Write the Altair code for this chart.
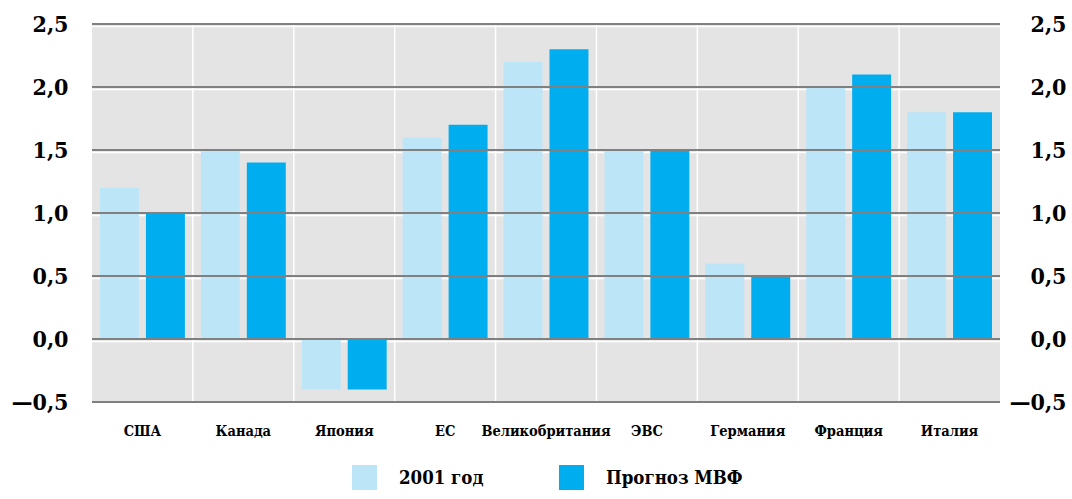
import altair as alt
import pandas as pd

# GDP growth, %: 2001 actual vs IMF forecast
countries = ["США", "Канада", "Япония", "ЕС", "Великобритания", "ЭВС", "Германия", "Франция", "Италия"]
growth_2001 = [1.2, 1.5, -0.4, 1.6, 2.2, 1.5, 0.6, 2.0, 1.8]
growth_imf = [1.0, 1.4, -0.4, 1.7, 2.3, 1.5, 0.5, 2.1, 1.8]
series = ["2001 год", "Прогноз МВФ"]
colors = ["#bde5f8", "#00aeef"]
ticks = [-0.5, 0.0, 0.5, 1.0, 1.5, 2.0, 2.5]

bars_df = pd.DataFrame({
    "country": countries * 2,
    "series": [series[0]] * len(countries) + [series[1]] * len(countries),
    "value": growth_2001 + growth_imf,
})
grid_df = pd.DataFrame({"level": ticks})
sep_df = pd.DataFrame({"country": countries[1:]})

FONT = "'DejaVu Serif Condensed', 'DejaVu Serif', serif"
y_scale = alt.Scale(domain=[-0.5, 2.5], nice=False)
x_scale = alt.Scale(domain=countries, paddingInner=0, paddingOuter=0)
label_expr = "(datum.value < 0 ? '—' : '') + replace(format(abs(datum.value), '.1f'), '.', ',')"

y_axis_common = dict(
    values=ticks, labelExpr=label_expr, domain=False, ticks=False, grid=False,
    title=None, labelFont=FONT, labelFontSize=23, labelFontWeight="bold",
    labelColor="black", labelBaseline="middle",
)
x_axis = alt.Axis(
    title=None, domain=False, ticks=False, grid=False, labelAngle=0,
    labelFont=FONT, labelFontSize=14.5, labelFontWeight="bold", labelColor="black",
    labelPadding=22, labelOverlap=False, labelLimit=300,
)

# white highlight under each gridline (also carries the left axis)
white_rules = alt.Chart(grid_df).mark_rule(color="white", strokeWidth=1.5, yOffset=2.5).encode(
    y=alt.Y("level:Q", scale=y_scale,
            axis=alt.Axis(orient="left", labelPadding=24, **y_axis_common))
)

# white separators between country groups
separators = alt.Chart(sep_df).mark_rule(color="white", strokeWidth=1.5).encode(
    x=alt.X("country:N", scale=x_scale, bandPosition=0, axis=x_axis),
    y=alt.value(0),
    y2=alt.value(378),
)

bars = alt.Chart(bars_df).mark_bar().encode(
    x=alt.X("country:N", scale=x_scale, axis=x_axis),
    xOffset=alt.XOffset("series:N", scale=alt.Scale(domain=series, paddingInner=0.152, paddingOuter=0.174)),
    y=alt.Y("value:Q", scale=y_scale,
            axis=alt.Axis(orient="right", labelPadding=66, labelAlign="right", **y_axis_common)),
    color=alt.Color(
        "series:N",
        scale=alt.Scale(domain=series, range=colors),
        legend=alt.Legend(
            title=None, orient="none", legendX=260, legendY=441, direction="horizontal",
            symbolType="square", symbolSize=625, symbolStrokeWidth=0,
            labelFont=FONT, labelFontSize=18.5, labelFontWeight="bold", labelColor="black",
            labelOffset=22, columnPadding=75,
        ),
    ),
)

dark_rules = alt.Chart(grid_df).mark_rule(color="#808080", strokeWidth=2.2).encode(
    y=alt.Y("level:Q", scale=y_scale, axis=None)
)

chart = (
    alt.layer(white_rules, separators, bars, dark_rules)
    .resolve_scale(y="independent")
    .properties(
        width=908, height=378,
        padding={"left": 92, "top": 24, "right": 72, "bottom": 97},
        autosize=alt.AutoSizeParams(type="none"),
        background="white",
    )
    .configure_view(fill="#e4e4e4", stroke=None)
)

chart.save("out.html", embed_options={"renderer": "svg", "actions": False})
